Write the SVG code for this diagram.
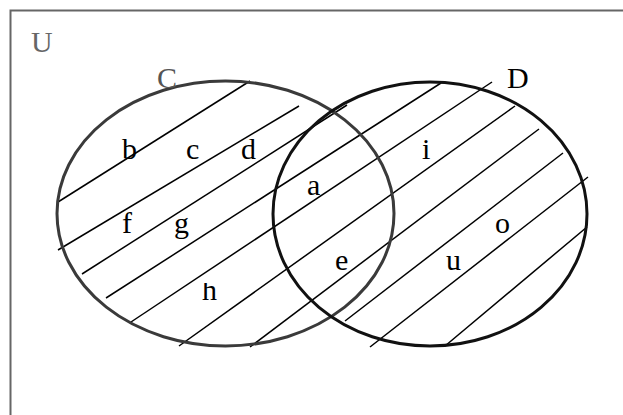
<svg xmlns="http://www.w3.org/2000/svg" width="623" height="415" viewBox="0 0 623 415">
  <style>
    .lbl { font-family: "Liberation Serif", "Times New Roman", serif; font-size: 30px; fill: #000; }
    .gray { fill: #666; }
    .hatch line { stroke: #000; stroke-width: 1.5; stroke-linecap: butt; }
  </style>
  <defs>
    <clipPath id="clipH"><rect x="190" y="283" width="40" height="30"/></clipPath>
  </defs>
  <rect x="0" y="0" width="623" height="415" fill="#fff"/>
  <g id="universe">
    <rect x="10.5" y="10.5" width="720" height="520" fill="none" stroke="#666" stroke-width="2"/>
    <text class="lbl gray" x="31" y="52">U</text>
  </g>
  <g id="hatching" class="hatch">
    <line x1="58" y1="202" x2="250" y2="81"/>
    <line x1="58" y1="250" x2="299" y2="106"/>
    <line x1="82" y1="274" x2="347" y2="105"/>
    <line x1="106" y1="298" x2="441" y2="83"/>
    <line x1="131" y1="322" x2="492" y2="82"/>
    <line x1="179" y1="346" x2="515" y2="106"/>
    <line x1="250" y1="347" x2="539" y2="129"/>
    <line x1="345" y1="321" x2="563" y2="153"/>
    <line x1="370" y1="347" x2="588" y2="177"/>
    <line x1="445" y1="346" x2="587" y2="227"/>
  </g>
  <g id="set-C">
    <ellipse cx="225.5" cy="213.5" rx="168.5" ry="132.5" fill="none" stroke="#3a3a3a" stroke-width="3"/>
    <text class="lbl" x="157" y="88" style="fill:#555">C</text>
  </g>
  <g id="set-D">
    <ellipse cx="430" cy="214" rx="157" ry="132" fill="none" stroke="#111" stroke-width="3"/>
    <text class="lbl" x="507" y="88">D</text>
  </g>
  <g id="elements">
    <text class="lbl" x="122" y="159">b</text>
    <text class="lbl" x="186" y="159">c</text>
    <text class="lbl" x="241" y="159">d</text>
    <text class="lbl" x="122" y="233">f</text>
    <text class="lbl" x="174" y="233">g</text>
    <text class="lbl" x="202" y="300" clip-path="url(#clipH)">h</text>
    <text class="lbl" x="307" y="195">a</text>
    <text class="lbl" x="335" y="270">e</text>
    <text class="lbl" x="422" y="159">i</text>
    <text class="lbl" x="446" y="270">u</text>
    <text class="lbl" x="495" y="233">o</text>
  </g>
</svg>
